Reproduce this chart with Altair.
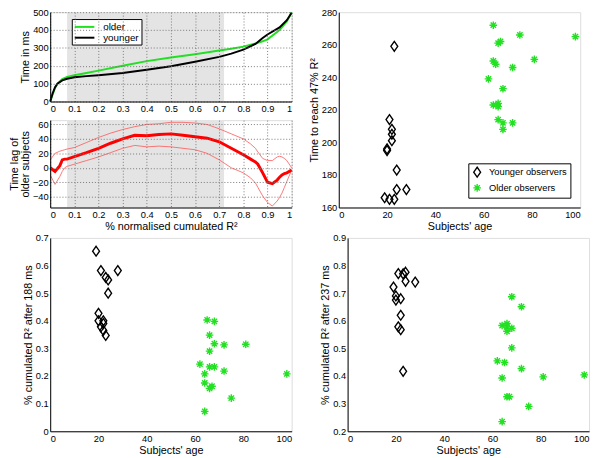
import altair as alt
import pandas as pd

FONT = "Liberation Sans"
GREEN = "#22e022"

# --- top-left upper: time curves ---
cx = [0, 0.01, 0.02, 0.03, 0.05, 0.07, 0.1, 0.15, 0.2, 0.3, 0.4, 0.5, 0.6, 0.7, 0.75, 0.8, 0.85, 0.88, 0.9, 0.95, 0.98, 1.0]
older_t = [0, 40, 75, 100, 125, 138, 147, 160, 173, 200, 226, 246, 265, 285, 295, 307, 325, 337, 348, 400, 448, 500]
younger_t = [0, 45, 80, 100, 118, 127, 136, 142, 147, 160, 178, 197, 222, 250, 268, 290, 322, 355, 375, 415, 455, 497]

# --- top-left lower: time lag ---
lx = [0, 0.02, 0.04, 0.05, 0.06, 0.07, 0.1, 0.15, 0.2, 0.25, 0.3, 0.35, 0.4, 0.45, 0.5, 0.55, 0.6, 0.65, 0.7, 0.75, 0.8, 0.83, 0.85, 0.86, 0.88, 0.9, 0.92, 0.94, 0.95, 0.96, 0.97, 0.98, 1.0]
lag_mean = [0, -5, 3, 11, 12, 12, 15.5, 21, 27, 34, 40, 45, 44.5, 46, 47, 45, 43, 41, 36, 27, 18, 12, 8, 5, -7, -20, -22, -17, -13, -10, -8, -7, -3]
lag_hi = [11, 20, 23, 24, 25, 26, 28, 35, 42, 48, 53, 57, 60, 61, 63, 63, 62, 60, 54, 47, 40, 33, 27, 22, 13, 10, 10, 15, 16, 15, 13, 10, 0]
lag_lo = [-10, -23, -12, -5, 0, 2, 5, 10, 15, 21, 27, 31, 29, 30, 29, 27, 25, 20, 11, 0, -7, -14, -21, -27, -39, -48, -53, -46, -41, -35, -27, -19, -3]

band_start = [0.07]
band_end = [0.72]

# --- scatter data ---
young_age = [23, 21, 22, 22, 22, 20, 20, 24, 24, 28, 19, 21, 23]
young_t47 = [259, 214, 208, 205, 201, 196, 195, 183, 171, 171, 166, 165, 165]
young_age_188 = [19, 21, 23, 24, 28, 24, 20, 20, 22, 22, 21, 22, 23]
young_r188 = [0.652, 0.582, 0.557, 0.548, 0.582, 0.50, 0.427, 0.40, 0.40, 0.39, 0.378, 0.365, 0.347]
young_age_237 = [21, 23, 24, 24, 28, 19, 20, 20, 22, 22, 21, 22, 23]
young_r237 = [0.771, 0.770, 0.776, 0.743, 0.740, 0.722, 0.690, 0.675, 0.680, 0.620, 0.578, 0.568, 0.417]

old_age = [64, 75, 98, 66, 67, 64, 65, 81, 72, 62, 68, 64, 66, 66, 66, 68, 72, 68]
old_t47 = [272, 266, 265, 261, 262, 250, 248, 251, 246, 239, 233, 223, 224, 222, 214, 212, 212, 208]
old_age_188 = [65, 68, 66, 68, 72, 81, 66, 62, 66, 68, 64, 72, 98, 64, 67, 66, 75, 64]
old_r188 = [0.403, 0.398, 0.348, 0.317, 0.313, 0.315, 0.290, 0.243, 0.233, 0.233, 0.208, 0.218, 0.208, 0.175, 0.163, 0.155, 0.120, 0.072]
old_age_237 = [68, 72, 64, 66, 66, 68, 66, 68, 62, 65, 72, 64, 81, 98, 66, 67, 75, 64]
old_r237 = [0.687, 0.651, 0.583, 0.590, 0.578, 0.573, 0.562, 0.502, 0.455, 0.449, 0.427, 0.393, 0.397, 0.404, 0.325, 0.325, 0.290, 0.235]

DIAMOND = "M0,-1L0.7,0L0,1L-0.7,0Z"
STAR = "M-1,0L1,0M0,-1L0,1M-0.7,-0.7L0.7,0.7M-0.7,0.7L0.7,-0.7"
LINESYM = "M-2,0H2"

LW = 246  # panel width

AX = dict(titleFontWeight="normal", titleFont=FONT, labelFont=FONT, labelFontSize=9.5,
          titleFontSize=11, ticks=False, labelPadding=2, titlePadding=2, labelColor="black",
          titleColor="black", domainColor="black")
GRID = dict(grid=True, gridDash=[1, 2], gridColor="#777", gridOpacity=1, zindex=1)
DEC1 = "datum.value == 0 ? '0' : datum.value == 1 ? '1' : format(datum.value, '.1f')"

xs_curve = alt.Scale(domain=[0, 1], nice=False)
xvals = [i / 10 for i in range(11)]


def xcurve(field, title):
    return alt.X(field, type="quantitative", scale=xs_curve, title=title,
                 axis=alt.Axis(values=xvals, labelExpr=DEC1, **GRID, **AX))


# ---------- top-left upper ----------
curves = pd.DataFrame({
    "x": cx * 2,
    "t": older_t + younger_t,
    "grp": ["older"] * len(cx) + ["younger"] * len(cx),
})
band = pd.DataFrame({"a": band_start, "b": band_end})

band_u = alt.Chart(band).mark_rect(color="#e4e4e4").encode(
    x=xcurve("a", None), x2="b:Q")
lines_u = alt.Chart(curves).mark_line(strokeWidth=2).encode(
    x=xcurve("x", None),
    y=alt.Y("t:Q", scale=alt.Scale(domain=[0, 500], nice=False), title="Time in ms",
            axis=alt.Axis(values=[0, 100, 200, 300, 400, 500], **GRID, **AX)),
    color=alt.Color("grp:N", scale=alt.Scale(domain=["older", "younger"], range=[GREEN, "black"]),
                    legend=alt.Legend(title=None, orient="none", legendX=22, legendY=7,
                                      symbolType=LINESYM, symbolStrokeWidth=2, symbolSize=100,
                                      symbolOffset=5, strokeColor="black", fillColor="white",
                                      padding=2, labelFontSize=10, labelFont=FONT, rowPadding=0,
                                      labelOffset=13)),
)
upper = alt.layer(band_u, lines_u).properties(width=LW, height=91)

# ---------- top-left lower ----------
lag = pd.DataFrame({"x": lx, "m": lag_mean, "hi": lag_hi, "lo": lag_lo})
LAGT = "% normalised cumulated R²"
ys_lag = alt.Scale(domain=[-55, 66], nice=False)


def ylag(field):
    return alt.Y(field, type="quantitative", scale=ys_lag, title=["Time lag of", "older subjects"],
                 axis=alt.Axis(values=[-40, -20, 0, 20, 40, 60], titleLineHeight=11, **GRID, **AX))


band_l = alt.Chart(band).mark_rect(color="#e4e4e4").encode(
    x=xcurve("a", LAGT), x2="b:Q")
base_l = alt.Chart(lag)
hi_l = base_l.mark_line(color="#ff5555", strokeWidth=0.8).encode(x=xcurve("x", LAGT), y=ylag("hi"))
lo_l = base_l.mark_line(color="#ff5555", strokeWidth=0.8).encode(x=xcurve("x", LAGT), y=ylag("lo"))
mean_l = base_l.mark_line(color="#ff0000", strokeWidth=3).encode(x=xcurve("x", LAGT), y=ylag("m"))
lower = alt.layer(band_l, hi_l, lo_l, mean_l).properties(width=LW, height=89)

# ---------- scatters ----------
YO = "Younger observers"
OO = "Older observers"
shape_scale = alt.Scale(domain=[YO, OO], range=[DIAMOND, STAR])
color_scale = alt.Scale(domain=[YO, OO], range=["black", GREEN])
xs_age = alt.Scale(domain=[0, 100], nice=False)


def scatter(ya, yv, oa, ov, ydom, yvals, ylab, ytitle, legend, h):
    df = pd.DataFrame({
        "age": ya + oa,
        "v": yv + ov,
        "grp": [YO] * len(ya) + [OO] * len(oa),
    })
    lg = None
    if legend:
        lg = alt.Legend(title=None, orient="bottom-right", offset=10, strokeColor="black",
                        fillColor="white", padding=3, labelFontSize=9.5, labelFont=FONT,
                        symbolStrokeWidth=1.4, rowPadding=1, symbolSize=70, labelOffset=6)
    yaxis = alt.Axis(values=yvals, grid=False, **AX) if ylab is None else \
        alt.Axis(values=yvals, grid=False, labelExpr=ylab, **AX)
    return alt.Chart(df).mark_point(filled=False, strokeWidth=1.4, size=90, opacity=1).encode(
        x=alt.X("age:Q", scale=xs_age, title="Subjects' age",
                axis=alt.Axis(values=[0, 20, 40, 60, 80, 100], grid=False, **AX)),
        y=alt.Y("v:Q", scale=alt.Scale(domain=ydom, nice=False), title=ytitle, axis=yaxis),
        shape=alt.Shape("grp:N", scale=shape_scale, legend=lg),
        color=alt.Color("grp:N", scale=color_scale, legend=lg),
        size=alt.Size("grp:N", scale=alt.Scale(domain=[YO, OO], range=[100, 60]), legend=None),
    ).properties(width=LW, height=h)


tr = scatter(young_age, young_t47, old_age, old_t47, [160, 280],
             [160, 180, 200, 220, 240, 260, 280], None, "Time to reach 47% R²", True, 199)
bl = scatter(young_age_188, young_r188, old_age_188, old_r188, [0, 0.7],
             [0, 0.1, 0.2, 0.3, 0.4, 0.5, 0.6, 0.7], DEC1, "% cumulated R² after 188 ms", False, 197)
br = scatter(young_age_237, young_r237, old_age_237, old_r237, [0.2, 0.9],
             [0.2, 0.3, 0.4, 0.5, 0.6, 0.7, 0.8, 0.9], DEC1, "% cumulated R² after 237 ms", False, 197)

left_col = alt.vconcat(upper, lower, spacing=5).resolve_scale(color="independent")
top_row = alt.hconcat(left_col, tr, spacing=9).resolve_scale(
    color="independent", shape="independent", size="independent").resolve_legend(
    color="independent", shape="independent")
bot_row = alt.hconcat(bl, br, spacing=25).resolve_scale(
    color="independent", shape="independent", size="independent")

chart = alt.vconcat(top_row, bot_row, spacing=0).resolve_scale(
    color="independent", shape="independent", size="independent").resolve_legend(
    color="independent", shape="independent").properties(
    padding={"top": -6, "left": 0, "right": 0, "bottom": 0}).configure_view(
    stroke="black", strokeWidth=1).configure(background="white")

chart.save("out.html", embed_options={"renderer": "svg", "actions": False})
